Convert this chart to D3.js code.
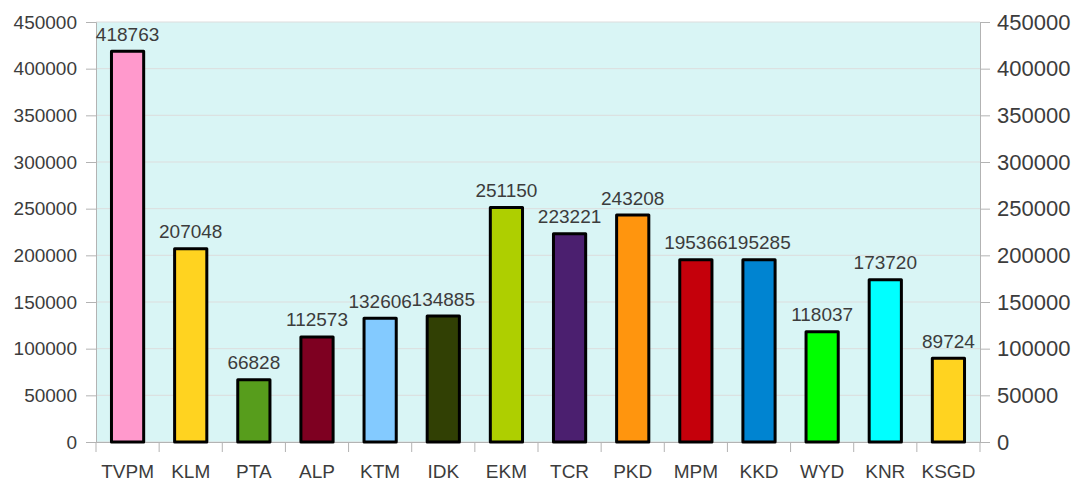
<!DOCTYPE html>
<html><head><meta charset="utf-8">
<script src="https://cdn.jsdelivr.net/npm/d3@7"></script>
<style>body{margin:0;background:#fff;} text{font-family:"Liberation Sans",Arial,sans-serif;}</style>
</head><body>
<svg id="c" width="1077" height="481"></svg>
<script>
const categories = ["TVPM","KLM","PTA","ALP","KTM","IDK","EKM","TCR","PKD","MPM","KKD","WYD","KNR","KSGD"];
const values = [418763,207048,66828,112573,132606,134885,251150,223221,243208,195366,195285,118037,173720,89724];
const colors = ["#ff99cc","#ffd320","#579d1c","#7e0021","#83caff","#314004","#aecf00","#4b1f6f","#ff950e","#c5000b","#0084d1","#00ff00","#00ffff","#ffd320"];
const yTicks = [0,50000,100000,150000,200000,250000,300000,350000,400000,450000];

const svg = d3.select("#c");
const L=96, R=980, T=22, B=442;
const x = d3.scaleBand().domain(categories).range([L,R]).paddingInner(0.49).paddingOuter(0.245);
const y = d3.scaleLinear().domain([0,450000]).range([B,T]);

svg.append("rect").attr("x",L).attr("y",T).attr("width",R-L).attr("height",B-T).attr("fill","#d9f5f5");
svg.append("g").selectAll("line").data(yTicks).join("line")
  .attr("x1",L).attr("x2",R).attr("y1",d=>y(d)).attr("y2",d=>y(d)).attr("stroke","#dddddd").attr("stroke-width",1);

const tc = "#3c3c3c";
const axL = svg.append("g").attr("transform",`translate(${L},0)`).call(d3.axisLeft(y).tickValues(yTicks).tickSize(10).tickPadding(9).tickFormat(d3.format("d")));
const axR = svg.append("g").attr("transform",`translate(${R},0)`).call(d3.axisRight(y).tickValues(yTicks).tickSize(10).tickPadding(7).tickFormat(d3.format("d")));
const xb = d3.scaleBand().domain(categories).range([L,R]);
const axB = svg.append("g").attr("transform",`translate(0,${B})`).call(d3.axisBottom(xb).tickSize(0).tickPadding(23));
svg.append("g").selectAll("line").data(d3.range(categories.length+1)).join("line")
  .attr("x1",i=>L+i*xb.step()).attr("x2",i=>L+i*xb.step()).attr("y1",B).attr("y2",B+10).attr("stroke","#b3b3b3");
[axL,axR,axB].forEach(a=>{
  a.selectAll("path").attr("stroke","#b3b3b3");
  a.selectAll("line").attr("stroke","#b3b3b3");
  a.selectAll("text").attr("fill",tc).style("font-size","19px").style("font-family","'Liberation Sans',Arial,sans-serif");
});
axR.selectAll("text").style("font-size","22px");
axB.select("path").attr("d",`M${L},0.5H${R}`);

svg.append("g").selectAll("rect").data(values).join("rect")
  .attr("x",(d,i)=>x(categories[i])).attr("width",x.bandwidth())
  .attr("y",d=>y(d)).attr("height",d=>B-y(d))
  .attr("fill",(d,i)=>colors[i]).attr("stroke","#000").attr("stroke-width",3).attr("stroke-linejoin","round");

svg.append("g").selectAll("text").data(values).join("text")
  .attr("x",(d,i)=>x(categories[i])+x.bandwidth()/2).attr("y",d=>y(d)-10.5)
  .attr("text-anchor","middle").attr("fill",tc).style("font-size","19px").text(d=>d);
</script>
</body></html>
